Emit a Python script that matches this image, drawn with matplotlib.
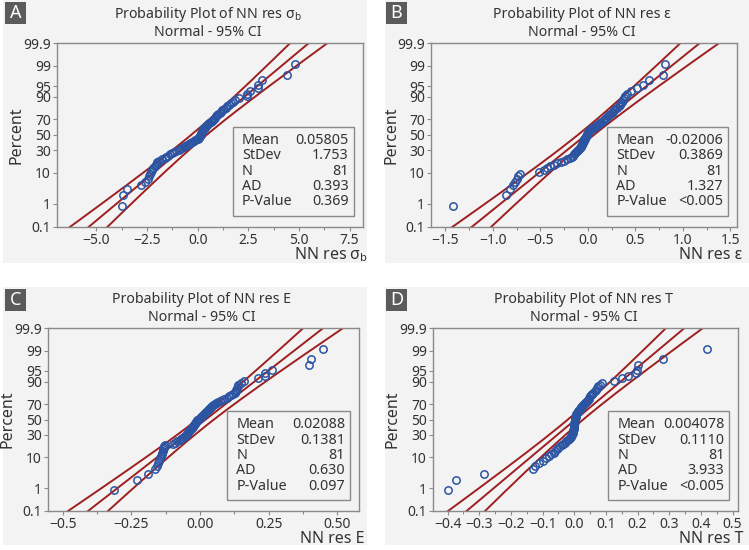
# -*- coding: utf-8 -*-
# Probability plots (normal, 95% CI) of the NN residuals, four panels

import matplotlib
matplotlib.use('Agg')
import matplotlib.pyplot as plt
from matplotlib.patches import Rectangle
import numpy as np
from statistics import NormalDist

plt.rcParams['font.family'] = ['Noto Sans', 'DejaVu Sans']

#---------------------------------------------------------------
## Data (sorted residuals, 81 each)
res_sb = [-3.72, -3.70, -3.50, -2.80, -2.60, -2.45, -2.40, -2.35, -2.30, -2.25,
          -2.20, -2.10, -2.05, -2.02, -2.00, -1.90, -1.75, -1.62, -1.55, -1.45,
          -1.35, -1.25, -1.15, -1.05, -0.92, -0.85, -0.78, -0.70, -0.62, -0.55,
          -0.45, -0.36, -0.28, -0.20, -0.12, -0.05, 0.00, 0.04, 0.08, 0.11,
          0.14, 0.16, 0.18, 0.20, 0.22, 0.25, 0.28, 0.32, 0.35, 0.38,
          0.42, 0.47, 0.52, 0.58, 0.65, 0.70, 0.75, 0.80, 0.85, 0.90,
          0.95, 1.00, 1.08, 1.15, 1.22, 1.30, 1.38, 1.45, 1.55, 1.65,
          1.75, 1.85, 2.05, 2.45, 2.45, 2.60, 2.98, 3.00, 3.20, 4.40, 4.80]
res_eps = [-1.42, -0.86, -0.82, -0.79, -0.77, -0.75, -0.73, -0.71, -0.51, -0.46,
           -0.43, -0.40, -0.36, -0.32, -0.28, -0.25, -0.22, -0.19, -0.17, -0.155,
           -0.14, -0.13, -0.12, -0.11, -0.10, -0.09, -0.08, -0.075, -0.07, -0.065,
           -0.06, -0.055, -0.05, -0.045, -0.04, -0.035, -0.03, -0.025, -0.02, -0.015,
           -0.01, -0.005, 0.0, 0.005, 0.01, 0.02, 0.03, 0.045, 0.06, 0.075,
           0.09, 0.10, 0.115, 0.13, 0.14, 0.155, 0.17, 0.18, 0.195, 0.21,
           0.22, 0.235, 0.25, 0.26, 0.275, 0.29, 0.31, 0.33, 0.34, 0.35,
           0.36, 0.37, 0.38, 0.39, 0.41, 0.45, 0.52, 0.58, 0.64, 0.79, 0.81]
res_E = [-0.313, -0.228, -0.188, -0.165, -0.158, -0.152, -0.148, -0.145, -0.142, -0.139,
         -0.137, -0.135, -0.134, -0.131, -0.129, -0.127, -0.097, -0.090, -0.082, -0.073,
         -0.068, -0.064, -0.059, -0.055, -0.051, -0.048, -0.045, -0.042, -0.039, -0.036,
         -0.033, -0.030, -0.027, -0.025, -0.022, -0.019, -0.017, -0.014, -0.012, -0.009,
         -0.006, -0.003, 0.000, 0.004, 0.008, 0.012, 0.016, 0.019, 0.023, 0.026,
         0.030, 0.033, 0.037, 0.041, 0.045, 0.048, 0.054, 0.060, 0.066, 0.072,
         0.080, 0.088, 0.097, 0.105, 0.112, 0.120, 0.127, 0.130, 0.133, 0.136,
         0.138, 0.140, 0.150, 0.160, 0.212, 0.236, 0.238, 0.261, 0.398, 0.406, 0.449]
res_T = [-0.400, -0.373, -0.284, -0.129, -0.124, -0.110, -0.100, -0.090, -0.080, -0.072,
         -0.065, -0.060, -0.054, -0.050, -0.045, -0.040, -0.035, -0.030, -0.025, -0.020,
         -0.016, -0.013, -0.011, -0.009, -0.008, -0.006, -0.005, -0.004, -0.003, -0.003,
         -0.002, -0.002, -0.001, -0.001, 0.000, 0.000, 0.000, 0.001, 0.001, 0.001,
         0.002, 0.002, 0.003, 0.004, 0.005, 0.006, 0.007, 0.009, 0.011, 0.013,
         0.015, 0.017, 0.020, 0.022, 0.024, 0.027, 0.030, 0.033, 0.036, 0.039,
         0.042, 0.045, 0.048, 0.051, 0.054, 0.057, 0.060, 0.064, 0.068, 0.072,
         0.076, 0.082, 0.087, 0.124, 0.150, 0.169, 0.195, 0.198, 0.200, 0.280, 0.420]

letters = ['A', 'B', 'C', 'D']
names = ['NN res σ$_\\mathregular{b}$', 'NN res ε', 'NN res E', 'NN res T']
means = [0.05805, -0.02006, 0.02088, 0.004078]
stdevs = [1.753, 0.3869, 0.1381, 0.1110]
mean_txt = ['0.05805', '-0.02006', '0.02088', '0.004078']
stdev_txt = ['1.753', '0.3869', '0.1381', '0.1110']
ad_txt = ['0.393', '1.327', '0.630', '3.933']
pval_txt = ['0.369', '<0.005', '0.097', '<0.005']
stat_names = ['Mean', 'StDev', 'N', 'AD', 'P-Value']

xticks = [[-5.0, -2.5, 0.0, 2.5, 5.0, 7.5],
          [-1.5, -1.0, -0.5, 0.0, 0.5, 1.0, 1.5],
          [-0.5, -0.25, 0.0, 0.25, 0.5],
          [-0.4, -0.3, -0.2, -0.1, 0.0, 0.1, 0.2, 0.3, 0.4, 0.5]]
xticklabels = [['−5.0', '−2.5', '0.0', '2.5', '5.0', '7.5'],
               ['−1.5', '−1.0', '−0.5', '0.0', '0.5', '1.0', '1.5'],
               ['−0.5', '−0.25', '0.00', '0.25', '0.50'],
               ['−0.4', '−0.3', '−0.2', '−0.1', '0.0', '0.1', '0.2', '0.3', '0.4', '0.5']]
xlims = [(-6.95, 8.15), (-1.65, 1.57), (-0.553, 0.579), (-0.446, 0.517)]
pct_ticks = [0.1, 1, 10, 30, 50, 70, 90, 95, 99, 99.9]
pct_labels = ['0.1', '1', '10', '30', '50', '70', '90', '95', '99', '99.9']

#---------------------------------------------------------------
## Layout in pixels (left, top, right, bottom) of each axes and panel
W, H = 749, 550
ax_px = [(57, 43.3, 362.7, 226.5), (431, 43.3, 737, 226.5),
         (48, 328.3, 359, 510.7), (433, 328.3, 738, 510.7)]
bg_px = [(3, 0, 367, 263), (385, 0, 749, 263), (3, 287, 367, 545), (385, 287, 749, 545)]
letter_px = [(5, 2), (386, 2), (5, 289), (386, 289)]

bg = '#f3f3f3'
red = '#9e1f1f'
blue = '#2b54a3'
frame = '#8a8a8a'
txt = '#333333'

nd = NormalDist()
zq = nd.inv_cdf
z975 = zq(0.975)

fig = plt.figure(figsize=(W / 100, H / 100), dpi=100)
fig.patch.set_facecolor('white')

data = [res_sb, res_eps, res_E, res_T]
for k in range(4):
    x0, y0, x1, y1 = bg_px[k]
    fig.patches.append(Rectangle((x0 / W, 1 - y1 / H), (x1 - x0) / W, (y1 - y0) / H,
                                 transform=fig.transFigure, fc=bg, ec='none', zorder=-10))
    lx, ly = letter_px[k]
    fig.patches.append(Rectangle((lx / W, 1 - (ly + 22) / H), 21 / W, 22 / H,
                                 transform=fig.transFigure, fc='#5b5b5b', ec='none'))
    fig.text((lx + 10.5) / W, 1 - (ly + 11) / H, letters[k], color='white',
             fontsize=13, fontweight='bold', ha='center', va='center')

    l, t, r, b = ax_px[k]
    ax = fig.add_axes([l / W, 1 - b / H, (r - l) / W, (b - t) / H])
    ax.set_facecolor(bg)

    # points at median ranks
    x = np.sort(np.array(data[k]))
    n = len(x)
    zz = np.array([zq((i - 0.3) / (n + 0.4)) for i in range(1, n + 1)])

    # fitted line + 95% CI bands
    zl = np.linspace(zq(0.0002), zq(0.9998), 300)
    fit = means[k] + zl * stdevs[k]
    half = z975 * stdevs[k] * np.sqrt((1 + zl ** 2 / 2) / n)
    for xx in (fit - half, fit, fit + half):
        ax.plot(xx, zl, color=red, lw=1.4, zorder=2)
    ax.plot(x, zz, 'o', mfc='none', mec=blue, ms=5.3, mew=1.1, zorder=3)

    ax.set_xlim(*xlims[k])
    ax.set_ylim(zq(0.001), zq(0.999))
    ax.set_yticks([zq(p / 100) for p in pct_ticks])
    ax.set_yticklabels(pct_labels)
    ax.set_xticks(xticks[k])
    ax.set_xticklabels(xticklabels[k])
    mids = [(a + c) / 2 for a, c in zip(xticks[k][:-1], xticks[k][1:])]
    ax.set_xticks(mids, minor=True)
    ax.tick_params(direction='out', length=3, width=0.8, color=frame,
                   labelsize=10, pad=1.5, labelcolor=txt)
    ax.tick_params(which='minor', length=2, width=0.8, color=frame)
    for s in ax.spines.values():
        s.set_color(frame)
        s.set_linewidth(1)

    # stats box
    ax.add_patch(Rectangle((0.575, 0.06), 0.395, 0.485, transform=ax.transAxes,
                           fc=bg, ec=frame, lw=1, zorder=4))
    vals = [mean_txt[k], stdev_txt[k], '81', ad_txt[k], pval_txt[k]]
    for j in range(5):
        yy = 0.47 - j * 0.084
        ax.text(0.605, yy, stat_names[j], transform=ax.transAxes, va='center',
                fontsize=10.3, color=txt, zorder=5)
        ax.text(0.955, yy, vals[j], transform=ax.transAxes, va='center', ha='right',
                fontsize=10.3, color=txt, zorder=5)

    # titles and axis labels
    cx = (l + r) / 2 - 2
    fig.text(cx / W, 1 - (t - 28.5) / H, 'Probability Plot of ' + names[k],
             ha='center', va='center', fontsize=10.2, color=txt)
    fig.text(cx / W, 1 - (t - 10.5) / H, 'Normal - 95% CI',
             ha='center', va='center', fontsize=10.2, color=txt)
    fig.text((l - 40) / W, 1 - ((t + b) / 2) / H, 'Percent', rotation=90,
             ha='center', va='center', fontsize=11.5, color=txt)
    fig.text((r + 5) / W, 1 - (b + 28.5) / H, names[k],
             ha='right', va='center', fontsize=11.5, color=txt)

fig.savefig('out.png', dpi=100, facecolor='white')
